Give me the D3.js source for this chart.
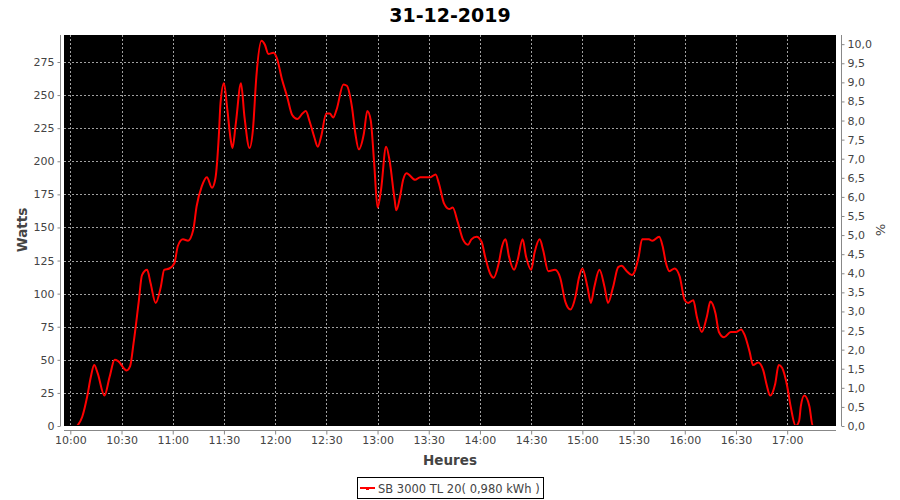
<!DOCTYPE html>
<html><head><meta charset="utf-8">
<script src="https://cdn.jsdelivr.net/npm/d3@7"></script>
<style>
body{margin:0;background:#fff;}
svg{display:block;font-family:"DejaVu Sans",sans-serif;}
</style></head>
<body><svg id="c" width="900" height="500"></svg>
<script>
const title = "31-12-2019";
const times = ["10:04","10:07","10:10","10:12","10:14","10:16","10:20","10:23","10:26","10:28","10:33","10:35","10:37","10:40","10:42","10:45","10:47","10:50","10:53","10:55","10:58","11:01","11:03","11:06","11:09","11:12","11:14","11:17","11:20","11:23","11:25","11:27","11:28","11:30","11:32","11:34","11:35","11:37","11:40","11:42","11:45","11:47","11:49","11:52","11:54","11:56","11:59","12:01","12:04","12:07","12:10","12:13","12:16","12:18","12:20","12:23","12:25","12:27","12:30","12:32","12:34","12:36","12:40","12:42","12:45","12:47","12:49","12:52","12:54","12:56","12:58","13:00","13:02","13:05","13:07","13:10","13:11","13:13","13:15","13:17","13:22","13:25","13:31","13:34","13:36","13:39","13:42","13:44","13:47","13:50","13:53","13:55","13:58","14:01","14:03","14:06","14:08","14:11","14:13","14:15","14:17","14:20","14:22","14:25","14:27","14:30","14:32","14:35","14:37","14:40","14:44","14:47","14:50","14:53","14:56","14:58","15:00","15:03","15:05","15:07","15:10","15:13","15:15","15:18","15:21","15:23","15:26","15:29","15:31","15:33","15:35","15:39","15:41","15:45","15:47","15:49","15:51","15:54","15:57","16:00","16:02","16:05","16:07","16:10","16:13","16:15","16:18","16:20","16:23","16:27","16:30","16:33","16:35","16:38","16:40","16:43","16:46","16:48","16:50","16:53","16:55","16:57","17:00","17:02","17:05","17:07","17:08","17:10","17:13","17:15","17:20"];
const watts = [0,7,23,37,46,40,23,37,50,49,42,45,62,93,114,118,108,93,105,118,119,123,136,141,140,148,166,181,188,180,187,219,244,259,239,216,210,229,259,234,210,224,264,291,288,281,282,278,262,249,235,232,236,238,231,218,211,219,236,236,233,239,258,257,241,221,209,221,238,231,199,165,178,211,201,171,163,172,186,191,186,188,188,190,183,168,164,165,154,141,137,141,143,139,128,115,112,123,136,141,128,118,125,141,128,118,131,141,133,117,118,112,94,88,98,112,119,105,93,105,118,105,93,105,120,121,117,114,118,128,141,141,140,143,136,123,117,119,113,95,93,95,83,71,83,94,85,71,67,71,71,73,69,56,46,48,42,31,23,32,46,44,30,15,0,4,15,23,15,0,0];
const xDomain = ["09:56:18","17:28:36"];
const xTicks = ["10:00","10:30","11:00","11:30","12:00","12:30","13:00","13:30","14:00","14:30","15:00","15:30","16:00","16:30","17:00"];
const leftDomain = [0, 295.4];
const leftTicks = [0,25,50,75,100,125,150,175,200,225,250,275];
const rightDomain = [0, 10.24];
const rightTicks = [0,0.5,1,1.5,2,2.5,3,3.5,4,4.5,5,5.5,6,6.5,7,7.5,8,8.5,9,9.5,10];
const legendLabel = "SB 3000 TL 20( 0,980 kWh )";
const xLabel = "Heures", yLabel = "Watts", y2Label = "%";

const svg = d3.select("#c");
const L = 64, R = 836, T = 35, B = 426;
const pt = d3.timeParse("%H:%M"), pts = d3.timeParse("%H:%M:%S");
const x = d3.scaleTime().domain(xDomain.map(pts)).range([L, R]);
const y = d3.scaleLinear().domain(leftDomain).range([B, T]);
const y2 = d3.scaleLinear().domain(rightDomain).range([B, T]);
const txt = "#444", axc = "#888";

svg.append("text").attr("x", 450).attr("y", 22).attr("text-anchor","middle")
  .attr("font-size", 19).attr("font-weight","bold").attr("fill","#000").text(title);

svg.append("rect").attr("x", L).attr("y", T).attr("width", R-L).attr("height", B-T).attr("fill","#000");

const grid = svg.append("g").attr("stroke","#a0a0a0").attr("stroke-width",1).attr("stroke-dasharray","2,2");
xTicks.forEach(t => { const px = Math.round(x(pt(t))) + 0.5;
  grid.append("line").attr("x1",px).attr("x2",px).attr("y1",T).attr("y2",B); });
leftTicks.forEach(v => { if (v === 0) return; const py = Math.round(y(v)) + 0.5;
  grid.append("line").attr("x1",L).attr("x2",R).attr("y1",py).attr("y2",py); });

svg.append("defs").append("clipPath").attr("id","clip").append("rect")
  .attr("x",L).attr("y",T).attr("width",R-L).attr("height",B-T-1);
const data = times.map((t,i)=>({t: pt(t), v: watts[i]}));
svg.append("path").datum(data).attr("clip-path","url(#clip)")
  .attr("fill","none").attr("stroke","#ff0000").attr("stroke-width",2)
  .attr("d", d3.line().x(d=>x(d.t)).y(d=>y(d.v)).curve(d3.curveMonotoneX));

const ga = svg.append("g").attr("transform","translate(60.5,0)")
  .call(d3.axisLeft(y).tickValues(leftTicks).tickSize(3).tickPadding(3).tickFormat(d3.format("d")));
const gr = svg.append("g").attr("transform","translate(841.5,0)")
  .call(d3.axisRight(y2).tickValues(rightTicks).tickSize(3).tickPadding(3).tickFormat(d => d.toFixed(1).replace(".", ",")));
const gb = svg.append("g").attr("transform","translate(0,430.5)")
  .call(d3.axisBottom(x).tickValues(xTicks.map(pt)).tickSize(4).tickPadding(2).tickFormat(d3.timeFormat("%H:%M")));
[ga, gr, gb].forEach(g => {
  g.select(".domain").remove();
  g.selectAll(".tick line").attr("stroke", axc);
  g.selectAll(".tick text").attr("fill", txt).attr("font-size", 11).attr("font-family", "DejaVu Sans");
});
svg.append("line").attr("x1",60.5).attr("x2",60.5).attr("y1",T).attr("y2",B).attr("stroke",axc);
svg.append("line").attr("x1",841.5).attr("x2",841.5).attr("y1",T).attr("y2",B).attr("stroke",axc);
svg.append("line").attr("x1",L).attr("x2",R).attr("y1",430.5).attr("y2",430.5).attr("stroke",axc);

svg.append("text").attr("transform","translate(27,230) rotate(-90)").attr("text-anchor","middle")
  .attr("font-size",13.5).attr("font-weight","bold").attr("fill",txt).text(yLabel);
svg.append("text").attr("transform","translate(876,230) rotate(90)").attr("text-anchor","middle")
  .attr("font-size",13).attr("fill",txt).text(y2Label);
svg.append("text").attr("x",450).attr("y",465).attr("text-anchor","middle")
  .attr("font-size",13.5).attr("font-weight","bold").attr("fill",txt).text(xLabel);

const lg = svg.append("g");
lg.append("rect").attr("x",357.5).attr("y",477.5).attr("width",186).attr("height",21)
  .attr("fill","#fff").attr("stroke","#000").attr("stroke-width",1);
lg.append("line").attr("x1",360).attr("x2",375).attr("y1",488).attr("y2",488).attr("stroke","#ff0000").attr("stroke-width",2);
lg.append("rect").attr("x",366).attr("y",487).attr("width",3).attr("height",3).attr("fill","#ff0000");
lg.append("text").attr("x",378).attr("y",492.5).attr("font-size",11.5).attr("fill",txt).text(legendLabel);
</script></body></html>
